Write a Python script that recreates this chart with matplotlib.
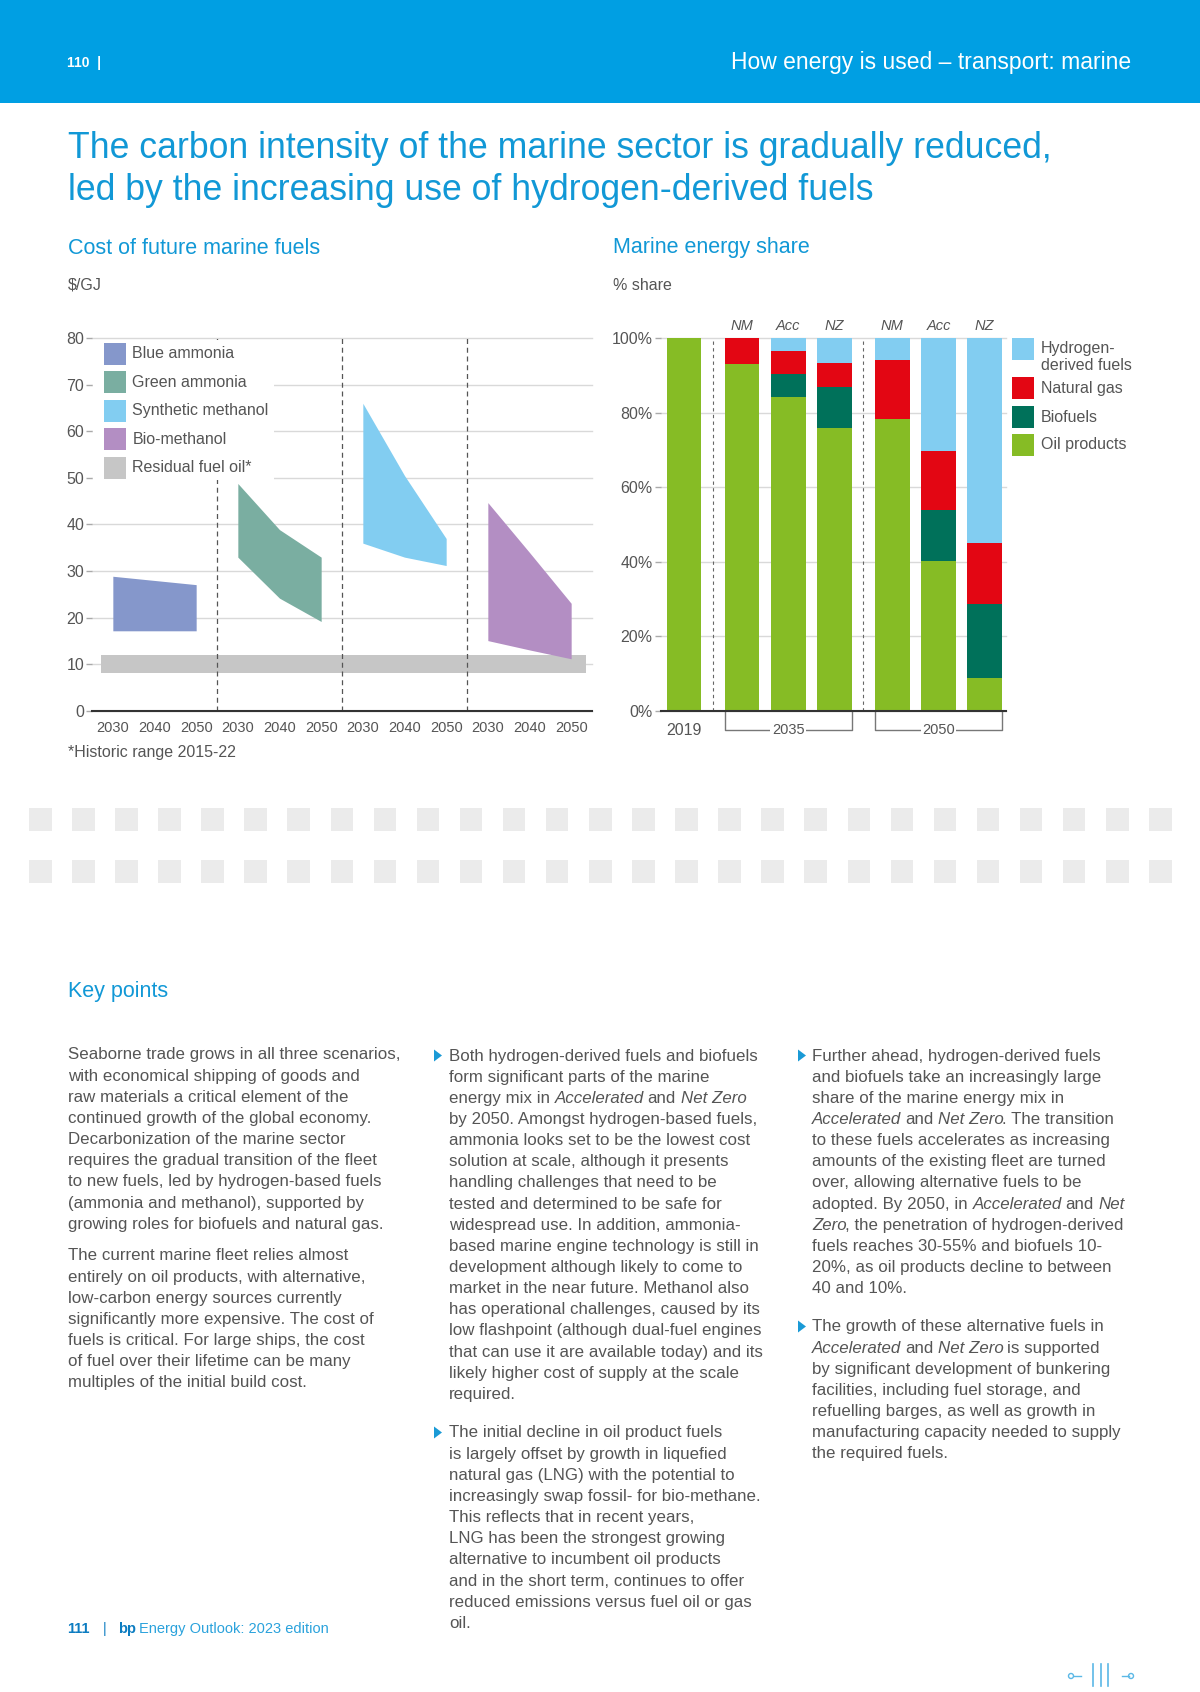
import matplotlib
matplotlib.use("Agg")
import matplotlib.pyplot as plt
from matplotlib.patches import Rectangle, Polygon, Circle
import numpy as np

plt.rcParams['font.family'] = ['Liberation Sans', 'DejaVu Sans']

# ---- left chart: cost of future marine fuels ($/GJ), low / high per year
years = [2030, 2040, 2050]
fuels = ['Blue ammonia', 'Green ammonia', 'Synthetic methanol', 'Bio-methanol']
fuel_low = {
    'Blue ammonia': [17.2, 17.2, 17.2],
    'Green ammonia': [33.0, 24.2, 19.2],
    'Synthetic methanol': [36.0, 33.0, 31.2],
    'Bio-methanol': [15.1, 13.1, 11.2],
}
fuel_high = {
    'Blue ammonia': [28.9, 28.0, 27.1],
    'Green ammonia': [48.8, 38.9, 33.0],
    'Synthetic methanol': [66.0, 50.5, 37.0],
    'Bio-methanol': [44.7, 34.0, 23.1],
}
residual_low, residual_high = 8.2, 12.0

# ---- right chart: marine energy share (%)
share_labels = ['2019', 'NM', 'Acc', 'NZ', 'NM', 'Acc', 'NZ']
oil = [100, 93.0, 84.1, 75.9, 78.3, 40.2, 8.9]
biofuels = [0, 0, 6.2, 11.0, 0, 13.7, 19.8]
natural_gas = [0, 7.0, 6.2, 6.3, 15.7, 15.7, 16.3]
hydrogen = [0, 0, 3.5, 6.8, 6.0, 30.4, 55.0]

BLUE = '#1198d6'
GRAY = '#555555'
BODY = '#555555'
fuel_colors = {
    'Blue ammonia': '#8597cb',
    'Green ammonia': '#7aaea1',
    'Synthetic methanol': '#82cdf1',
    'Bio-methanol': '#b38ec3',
    'Residual fuel oil*': '#c6c6c6',
}
OIL, BIO, GAS, H2 = '#86bc25', '#00715a', '#e30613', '#82cdf1'

W, H = 1200, 1692
fig = plt.figure(figsize=(12, 16.92), dpi=100)


def box(x0, y0, x1, y1):
    return [x0 / W, 1 - y1 / H, (x1 - x0) / W, (y1 - y0) / H]


# ---------------- left chart
ax1 = fig.add_axes(box(92, 338, 592, 711))
ax1.set_xlim(0, 12)
ax1.set_ylim(0, 80)
for s in ['top', 'right', 'left']:
    ax1.spines[s].set_visible(False)
ax1.spines['bottom'].set_color('#333333')
ax1.spines['bottom'].set_linewidth(1.5)
ax1.spines['bottom'].set_zorder(6)
ax1.set_yticks(range(0, 81, 10))
ax1.yaxis.grid(True, color='#d9d9d9', lw=1)
for gl in ax1.get_ygridlines():
    gl.set_clip_on(False)
ax1.set_axisbelow(True)
ax1.tick_params(axis='y', length=4, width=1, color='#aaaaaa',
                labelsize=11.5, labelcolor=GRAY, pad=1.5)
xt = [3 * g + 0.5 + k for g in range(4) for k in range(3)]
ax1.set_xticks(xt)
ax1.set_xticklabels([str(y) for y in years] * 4)
ax1.tick_params(axis='x', length=0, labelsize=10.5, labelcolor=GRAY, pad=7)

for g, f in enumerate(fuels):
    xs = [3 * g + 0.5 + k for k in range(len(years))]
    ax1.fill_between(xs, fuel_low[f], fuel_high[f], color=fuel_colors[f], lw=0, zorder=3)
ax1.fill_between([0.22, 11.86], residual_low, residual_high,
                 color=fuel_colors['Residual fuel oil*'], lw=0, zorder=2)
for xv in [3, 6, 9]:
    ax1.axvline(xv, color='#555555', lw=0.9, ls=(0, (4, 3)), zorder=2.5)

# ---------------- right chart
ax2 = fig.add_axes(box(661, 338, 1006.5, 711))
ax2.set_xlim(-0.5, 6.97)
ax2.set_ylim(0, 100)
for s in ['top', 'right', 'left']:
    ax2.spines[s].set_visible(False)
ax2.spines['bottom'].set_color('#333333')
ax2.spines['bottom'].set_linewidth(1.5)
ax2.spines['bottom'].set_zorder(6)
ax2.set_yticks(range(0, 101, 20))
ax2.set_yticklabels([f'{v}%' for v in range(0, 101, 20)])
ax2.yaxis.grid(True, color='#d9d9d9', lw=1)
for gl in ax2.get_ygridlines():
    gl.set_clip_on(False)
ax2.set_axisbelow(True)
ax2.tick_params(axis='y', length=4, width=1, color='#aaaaaa',
                labelsize=11.5, labelcolor=GRAY, pad=2)
ax2.set_xticks([])

bar_x = np.array([0, 1.25, 2.25, 3.25, 4.5, 5.5, 6.5])
bottom = np.zeros(len(bar_x))
for vals, col in [(oil, OIL), (biofuels, BIO), (natural_gas, GAS), (hydrogen, H2)]:
    ax2.bar(bar_x, vals, 0.75, bottom=bottom, color=col, lw=0, zorder=3)
    bottom += np.array(vals)
for xv in [0.625, 3.875]:
    ax2.axvline(xv, color='#666666', lw=0.8, ls=(0, (3, 3)), zorder=2.5)

xtr = ax2.get_xaxis_transform()
for x, lab in zip(bar_x[1:], share_labels[1:]):
    ax2.text(x, 1.032, lab, transform=xtr, ha='center', va='center',
             style='italic', fontsize=10.5, color=GRAY)
ax2.text(bar_x[0], -0.051, share_labels[0], transform=xtr, ha='center', va='center',
         fontsize=11.5, color=GRAY)
yb = -0.051
for lab, (i0, i1) in [('2035', (1, 3)), ('2050', (4, 6))]:
    x0, x1 = bar_x[i0] - 0.375, bar_x[i1] + 0.375
    ax2.plot([x0, x0, x1, x1], [0, yb, yb, 0], transform=xtr, clip_on=False,
             color='#777777', lw=1)
    ax2.text((x0 + x1) / 2, yb, lab, transform=xtr, ha='center', va='center',
             fontsize=10.5, color=GRAY,
             bbox=dict(facecolor='white', edgecolor='none', pad=1))

# ---------------- page overlay
page = fig.add_axes([0, 0, 1, 1], zorder=10)
page.set_xlim(0, W)
page.set_ylim(H, 0)
page.axis('off')
page.patch.set_alpha(0)
renderer = fig.canvas.get_renderer()

# header band
page.add_patch(Rectangle((0, 0), W, 103, color='#009fe3', lw=0))
page.text(67, 63, '110  |', color='white', fontsize=10, fontweight='bold', va='center')
page.text(1131, 62, 'How energy is used – transport: marine', color='white',
          fontsize=16.5, ha='right', va='center')

page.text(68, 149, 'The carbon intensity of the marine sector is gradually reduced,',
          fontsize=25.7, color=BLUE, va='center')
page.text(68, 191, 'led by the increasing use of hydrogen-derived fuels',
          fontsize=25.7, color=BLUE, va='center')

page.text(68, 248, 'Cost of future marine fuels', fontsize=15.5, color=BLUE, va='center')
page.text(613, 248, 'Marine energy share', fontsize=15.5, color=BLUE, va='center')
page.text(68, 285, '$/GJ', fontsize=11.5, color=GRAY, va='center')
page.text(613, 285, '% share', fontsize=11.5, color=GRAY, va='center')

# left legend (white box hides grid behind it)
page.add_patch(Rectangle((93, 340), 181, 140, color='white', lw=0))
for i, name in enumerate(fuels + ['Residual fuel oil*']):
    yc = 354 + 28.5 * i
    page.add_patch(Rectangle((104, yc - 11), 22, 22, color=fuel_colors[name], lw=0))
    page.text(132.5, yc, name, fontsize=11.5, color=GRAY, va='center')
page.text(68, 752, '*Historic range 2015-22', fontsize=11.5, color=GRAY, va='center')

# right legend
leg = [('Hydrogen-', 'derived fuels', H2, 338), ('Natural gas', None, GAS, 377),
       ('Biofuels', None, BIO, 406), ('Oil products', None, OIL, 434)]
for l1, l2, col, top in leg:
    page.add_patch(Rectangle((1012, top), 22, 22, color=col, lw=0))
    if l2:
        page.text(1041, top + 11, l1, fontsize=11.5, color=GRAY, va='center')
        page.text(1041, top + 27, l2, fontsize=11.5, color=GRAY, va='center')
    else:
        page.text(1041, top + 11, l1, fontsize=11.5, color=GRAY, va='center')

# decorative squares
for row_y in [808, 860]:
    for i in range(27):
        page.add_patch(Rectangle((29 + i * 43.08, row_y), 22.5, 23.5, color='#ebebeb', lw=0))

page.text(68, 991, 'Key points', fontsize=15.5, color=BLUE, va='center')

BODY_SIZE = 12.2
_a = page.text(0, 0, 'x x', fontsize=BODY_SIZE)
_b = page.text(0, 0, 'xx', fontsize=BODY_SIZE)
SPACE_W = _a.get_window_extent(renderer).width - _b.get_window_extent(renderer).width
_a.remove()
_b.remove()


def rich_line(x, y, line):
    parts = line.split('*')
    for i, part in enumerate(parts):
        if not part:
            continue
        italic = i % 2 == 1
        x += (len(part) - len(part.lstrip(' '))) * SPACE_W
        core = part.strip(' ')
        if core:
            t = page.text(x, y, core, fontsize=BODY_SIZE,
                          style='italic' if italic else 'normal', color=BODY,
                          va='center', ha='left')
            x += t.get_window_extent(renderer).width
            if italic:
                x -= 1.2
        x += (len(part) - len(part.rstrip(' '))) * SPACE_W


def paragraph(x, y0, lines, bullet_x=None):
    if bullet_x is not None:
        page.add_patch(Polygon([(bullet_x, y0 - 6.5), (bullet_x, y0 + 5.5), (bullet_x + 8, y0 - 0.5)],
                               closed=True, color='#1a9ad6', lw=0))
    for i, ln in enumerate(lines):
        rich_line(x, y0 + i * 21.15, ln)


col1_p1 = [
    "Seaborne trade grows in all three scenarios,",
    "with economical shipping of goods and",
    "raw materials a critical element of the",
    "continued growth of the global economy.",
    "Decarbonization of the marine sector",
    "requires the gradual transition of the fleet",
    "to new fuels, led by hydrogen-based fuels",
    "(ammonia and methanol), supported by",
    "growing roles for biofuels and natural gas.",
]
col1_p2 = [
    "The current marine fleet relies almost",
    "entirely on oil products, with alternative,",
    "low-carbon energy sources currently",
    "significantly more expensive. The cost of",
    "fuels is critical. For large ships, the cost",
    "of fuel over their lifetime can be many",
    "multiples of the initial build cost.",
]
col2_p1 = [
    "Both hydrogen-derived fuels and biofuels",
    "form significant parts of the marine",
    "energy mix in *Accelerated* and *Net Zero*",
    "by 2050. Amongst hydrogen-based fuels,",
    "ammonia looks set to be the lowest cost",
    "solution at scale, although it presents",
    "handling challenges that need to be",
    "tested and determined to be safe for",
    "widespread use. In addition, ammonia-",
    "based marine engine technology is still in",
    "development although likely to come to",
    "market in the near future. Methanol also",
    "has operational challenges, caused by its",
    "low flashpoint (although dual-fuel engines",
    "that can use it are available today) and its",
    "likely higher cost of supply at the scale",
    "required.",
]
col2_p2 = [
    "The initial decline in oil product fuels",
    "is largely offset by growth in liquefied",
    "natural gas (LNG) with the potential to",
    "increasingly swap fossil- for bio-methane.",
    "This reflects that in recent years,",
    "LNG has been the strongest growing",
    "alternative to incumbent oil products",
    "and in the short term, continues to offer",
    "reduced emissions versus fuel oil or gas",
    "oil.",
]
col3_p1 = [
    "Further ahead, hydrogen-derived fuels",
    "and biofuels take an increasingly large",
    "share of the marine energy mix in",
    "*Accelerated* and *Net Zero*. The transition",
    "to these fuels accelerates as increasing",
    "amounts of the existing fleet are turned",
    "over, allowing alternative fuels to be",
    "adopted. By 2050, in *Accelerated* and *Net*",
    "*Zero*, the penetration of hydrogen-derived",
    "fuels reaches 30-55% and biofuels 10-",
    "20%, as oil products decline to between",
    "40 and 10%.",
]
col3_p2 = [
    "The growth of these alternative fuels in",
    "*Accelerated* and *Net Zero* is supported",
    "by significant development of bunkering",
    "facilities, including fuel storage, and",
    "refuelling barges, as well as growth in",
    "manufacturing capacity needed to supply",
    "the required fuels.",
]

paragraph(68, 1055, col1_p1)
paragraph(68, 1256, col1_p2)
paragraph(449, 1056, col2_p1, bullet_x=434)
paragraph(449, 1433, col2_p2, bullet_x=434)
paragraph(812, 1056, col3_p1, bullet_x=798)
paragraph(812, 1327, col3_p2, bullet_x=798)

# footer
page.text(67, 1629, '111', fontsize=10.5, fontweight='bold', color='#0c7cc1', va='center')
page.text(103, 1629, '|', fontsize=10.5, color='#0c7cc1', va='center')
page.text(118, 1629, 'bp', fontsize=10.5, fontweight='bold', color='#0c7cc1', va='center')
page.text(139, 1629, 'Energy Outlook: 2023 edition', fontsize=10.5, color='#2aa2dc', va='center')

ICON = '#5bb8e6'
page.add_patch(Circle((1071, 1676), 2.5, fill=False, ec=ICON, lw=1))
page.plot([1073.5, 1081], [1676, 1676], color=ICON, lw=1)
for xv in [1093, 1101, 1108]:
    page.plot([xv, xv], [1664, 1686], color=ICON, lw=1.2)
page.plot([1122, 1128.5], [1676, 1676], color=ICON, lw=1)
page.add_patch(Circle((1131, 1676), 2.5, fill=False, ec=ICON, lw=1))

fig.savefig('out.png', dpi=100)
